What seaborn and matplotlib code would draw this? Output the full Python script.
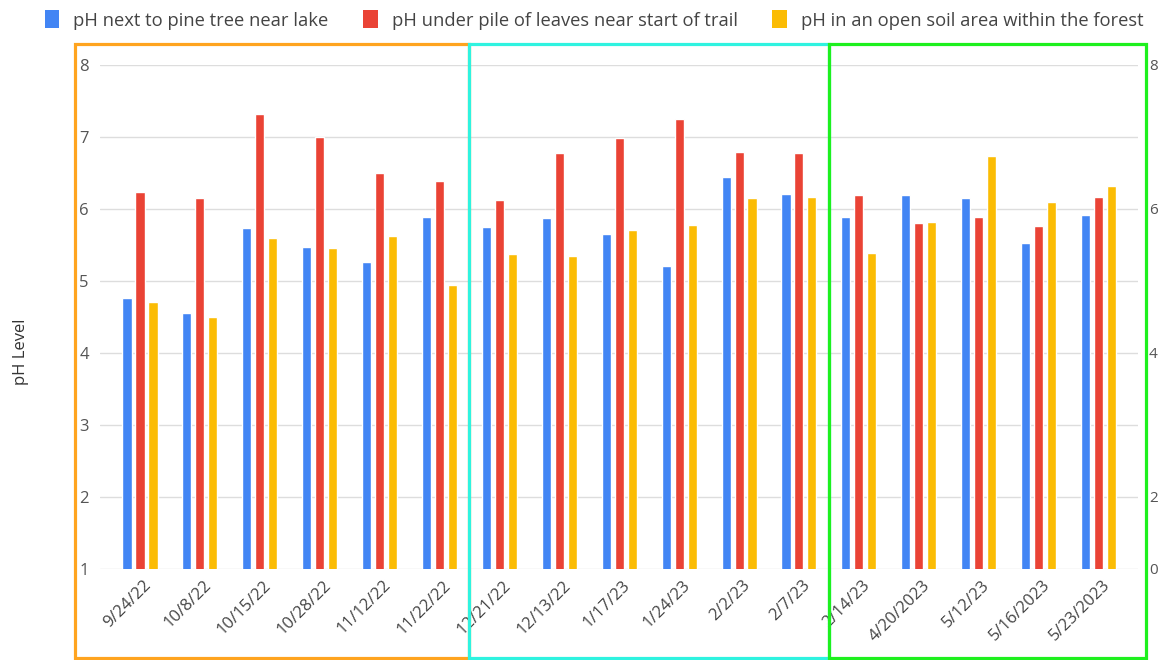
import matplotlib
matplotlib.use("Agg")
import matplotlib.pyplot as plt
import matplotlib.transforms as mtransforms
from matplotlib.patches import Patch, Rectangle
import pandas as pd
import seaborn as sns

dates = ["9/24/22", "10/8/22", "10/15/22", "10/28/22", "11/12/22", "11/22/22",
         "12/21/22", "12/13/22", "1/17/23", "1/24/23", "2/2/23", "2/7/23",
         "2/14/23", "4/20/2023", "5/12/23", "5/16/2023", "5/23/2023"]

sites = ["pH next to pine tree near lake",
         "pH under pile of leaves near start of trail",
         "pH in an open soil area within the forest"]

ph_pine = [4.76, 4.56, 5.74, 5.47, 5.26, 5.89, 5.75, 5.88, 5.65, 5.21, 6.44, 6.21,
           5.89, 6.19, 6.15, 5.53, 5.92]
ph_leaves = [6.24, 6.15, 7.32, 7.00, 6.50, 6.39, 6.12, 6.78, 6.98, 7.25, 6.79, 6.78,
             6.19, 5.81, 5.89, 5.76, 6.17]
ph_open = [4.71, 4.50, 5.60, 5.46, 5.62, 4.94, 5.37, 5.35, 5.71, 5.78, 6.15, 6.17,
           5.39, 5.82, 6.74, 6.10, 6.32]

colors = ["#4285F4", "#EA4335", "#FBBC04"]

# Right-hand axis: labels drawn against left-axis positions
right_tick_pos = [1, 2, 4, 6, 8]
right_tick_labels = ["0", "2", "4", "6", "8"]

df = pd.DataFrame({
    "date": dates * 3,
    "site": [sites[0]] * len(dates) + [sites[1]] * len(dates) + [sites[2]] * len(dates),
    "ph": ph_pine + ph_leaves + ph_open,
})

sns.set_theme(style="white")
plt.rcParams["font.family"] = ["Open Sans", "DejaVu Sans"]

W, H = 1160, 660
fig = plt.figure(figsize=(W / 100, H / 100), dpi=100)
ax = fig.add_axes([100 / W, 1 - 569 / H, 1038 / W, 504 / H])

sns.barplot(data=df, x="date", y="ph", hue="site", palette=colors,
            width=0.65, gap=0.3, ax=ax, legend=False, saturation=1)

ax.set_xlim(-0.668, 16.66)
ax.set_ylim(1, 8)
ax.set_yticks(range(1, 9))
ax.yaxis.grid(True, color="#dddddd", lw=1)
ax.set_axisbelow(True)
for s in ax.spines.values():
    s.set_visible(False)

ax.tick_params(axis="y", length=0, pad=8, labelsize=12, labelcolor="#555555")
ax.tick_params(axis="x", length=0, pad=10, labelsize=12, labelcolor="#444444")
ax.set_xlabel("")
ax.set_ylabel("")
offset = mtransforms.ScaledTranslation(9 / 100, 0, fig.dpi_scale_trans)
for lbl in ax.get_xticklabels():
    lbl.set_rotation(45)
    lbl.set_ha("right")
    lbl.set_va("center")
    lbl.set_rotation_mode("anchor")
    lbl.set_transform(lbl.get_transform() + offset)

ax2 = ax.twinx()
ax2.set_ylim(1, 8)
ax2.set_yticks(right_tick_pos)
ax2.set_yticklabels(right_tick_labels)
ax2.tick_params(axis="y", length=0, pad=8, labelsize=11, labelcolor="#555555")
for s in ax2.spines.values():
    s.set_visible(False)

fig.text(21 / W, 1 - 352 / H, "pH Level", rotation=90, ha="center", va="center",
         fontsize=12, color="#333333")

handles = [Patch(facecolor=c, edgecolor="none", label=s) for c, s in zip(colors, sites)]
fig.legend(handles=handles, loc="center", bbox_to_anchor=(594 / W, 1 - 20 / H),
           ncol=3, frameon=False, fontsize=13.2, labelcolor="#444444",
           handlelength=0.8, handleheight=1.1, handletextpad=0.75, columnspacing=1.9)

# Period boxes: x in category units, y in figure fraction
blend = mtransforms.blended_transform_factory(ax.transData, fig.transFigure)
y0, y1 = 1 - 658 / H, 1 - 44 / H
periods = [(-1.085, 5.5, "#FFA41F"), (5.5, 11.5, "#2FF3E0"), (11.5, 16.79, "#1EF01E")]
for x0, x1, c in periods:
    fig.add_artist(Rectangle((x0, y0), x1 - x0, y1 - y0, transform=blend,
                             fill=False, edgecolor=c, lw=2.3, clip_on=False))

fig.savefig("out.png", dpi=100, facecolor="white")
